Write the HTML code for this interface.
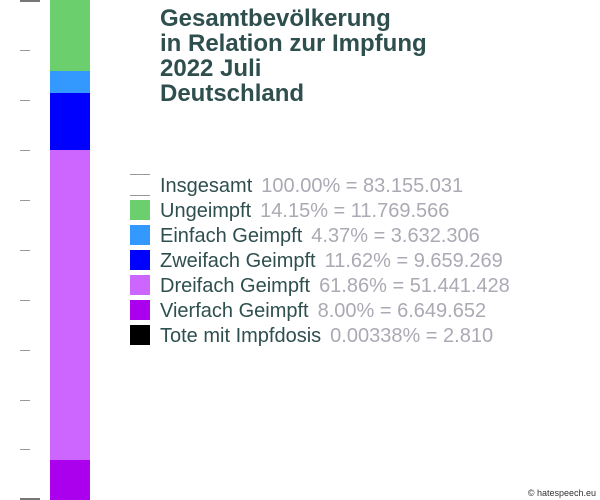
<!DOCTYPE html><html><head><style>
body{margin:0;width:600px;height:500px;background:#fff;position:relative;overflow:hidden;font-family:"Liberation Sans",sans-serif}
.a{position:absolute}
.t{left:160px;font-weight:bold;font-size:24px;color:#2f4f4f;line-height:25px;top:6px}
.tk{left:20px;width:10px;height:1px;background:#999}
.r{left:160px;font-size:20px;color:#2f4f4f;white-space:nowrap;line-height:20px}
.r span{color:#aaaab4;margin-left:9px}
.s{left:130px;width:20px;height:20px}
</style></head><body>
<div class="a t">Gesamtbevölkerung<br>in Relation zur Impfung<br>2022 Juli<br>Deutschland</div>
<div class="a" style="left:20px;top:0;width:20px;height:2px;background:#777"></div>
<div class="a tk" style="top:50px"></div><div class="a tk" style="top:100px"></div><div class="a tk" style="top:150px"></div><div class="a tk" style="top:200px"></div><div class="a tk" style="top:250px"></div><div class="a tk" style="top:300px"></div><div class="a tk" style="top:350px"></div><div class="a tk" style="top:400px"></div><div class="a tk" style="top:449px"></div>
<div class="a" style="left:20px;top:498px;width:20px;height:2px;background:#777"></div>
<div class="a" style="left:50px;top:0;width:40px;height:71px;background:#6ccf6e"></div>
<div class="a" style="left:50px;top:71px;width:40px;height:22px;background:#3399ff"></div>
<div class="a" style="left:50px;top:93px;width:40px;height:57px;background:#0000ff"></div>
<div class="a" style="left:50px;top:150px;width:40px;height:310px;background:#cc66ff"></div>
<div class="a" style="left:50px;top:460px;width:40px;height:40px;background:#aa00ee"></div>
<div class="a" style="left:130px;top:174px;width:20px;height:1px;background:#999"></div>
<div class="a" style="left:130px;top:195px;width:20px;height:1px;background:#999"></div>
<div class="a r" style="top:176px">Insgesamt<span>100.00% = 83.155.031</span></div>
<div class="a s" style="top:200px;background:#6ccf6e"></div><div class="a r" style="top:201px">Ungeimpft<span>14.15% = 11.769.566</span></div>
<div class="a s" style="top:225px;background:#3399ff"></div><div class="a r" style="top:226px">Einfach Geimpft<span>4.37% = 3.632.306</span></div>
<div class="a s" style="top:250px;background:#0000ff"></div><div class="a r" style="top:251px">Zweifach Geimpft<span>11.62% = 9.659.269</span></div>
<div class="a s" style="top:275px;background:#cc66ff"></div><div class="a r" style="top:276px">Dreifach Geimpft<span>61.86% = 51.441.428</span></div>
<div class="a s" style="top:300px;background:#aa00ee"></div><div class="a r" style="top:301px">Vierfach Geimpft<span>8.00% = 6.649.652</span></div>
<div class="a s" style="top:325px;background:#000"></div><div class="a r" style="top:326px">Tote mit Impfdosis<span>0.00338% = 2.810</span></div>
<div class="a" style="right:4px;top:488px;font-size:9px;color:#333">© hatespeech.eu</div>
</body></html>
